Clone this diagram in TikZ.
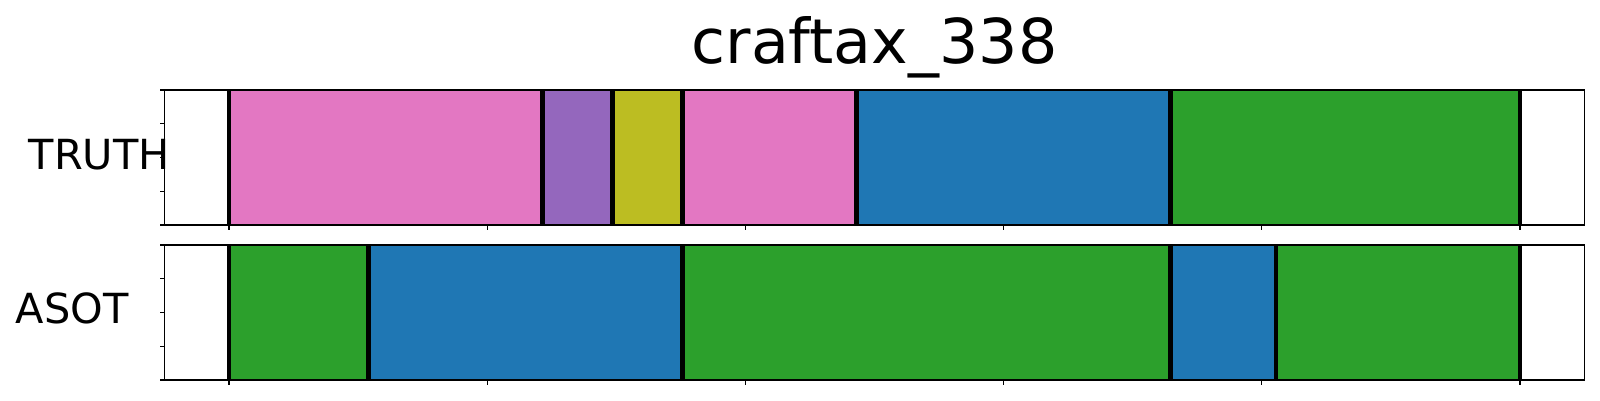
\documentclass[tikz,border=0pt]{standalone}
\usepackage{fontspec}
\setmainfont{DejaVu Sans}

\definecolor{tabpink}{HTML}{E377C2}
\definecolor{tabpurple}{HTML}{9467BD}
\definecolor{tabolive}{HTML}{BCBD22}
\definecolor{tabblue}{HTML}{1F77B4}
\definecolor{tabgreen}{HTML}{2CA02C}

\begin{document}
\begin{tikzpicture}[
  bound/.style={line width=1.3pt},
  frame/.style={line width=0.4pt},
  tickmark/.style={line width=0.35pt},
  rowlabel/.style={anchor=base west, inner sep=0pt, font=\fontsize{11.8}{14}\selectfont}
]

\useasboundingbox (0, 0) rectangle (16, 4);

% TRUTH row
\fill[tabpink] (2.29, 3.1) rectangle (5.427, 1.75);
\fill[tabpurple] (5.427, 3.1) rectangle (6.127, 1.75);
\fill[tabolive] (6.127, 3.1) rectangle (6.827, 1.75);
\fill[tabpink] (6.827, 3.1) rectangle (8.567, 1.75);
\fill[tabblue] (8.567, 3.1) rectangle (11.707, 1.75);
\fill[tabgreen] (11.707, 3.1) rectangle (15.2, 1.75);

% ASOT row
\fill[tabgreen] (2.29, 1.55) rectangle (3.683, 0.2);
\fill[tabblue] (3.683, 1.55) rectangle (6.827, 0.2);
\fill[tabgreen] (6.827, 1.55) rectangle (11.707, 0.2);
\fill[tabblue] (11.707, 1.55) rectangle (12.76, 0.2);
\fill[tabgreen] (12.76, 1.55) rectangle (15.2, 0.2);

\draw[bound] (2.29, 3.1) -- (2.29, 1.75);
\draw[bound] (5.427, 3.1) -- (5.427, 1.75);
\draw[bound] (6.127, 3.1) -- (6.127, 1.75);
\draw[bound] (6.827, 3.1) -- (6.827, 1.75);
\draw[bound] (8.567, 3.1) -- (8.567, 1.75);
\draw[bound] (11.707, 3.1) -- (11.707, 1.75);
\draw[bound] (15.2, 3.1) -- (15.2, 1.75);

\draw[bound] (2.29, 1.55) -- (2.29, 0.2);
\draw[bound] (3.683, 1.55) -- (3.683, 0.2);
\draw[bound] (6.827, 1.55) -- (6.827, 0.2);
\draw[bound] (11.707, 1.55) -- (11.707, 0.2);
\draw[bound] (12.76, 1.55) -- (12.76, 0.2);
\draw[bound] (15.2, 1.55) -- (15.2, 0.2);

\draw[frame] (1.645, 1.75) rectangle (15.845, 3.1);
\draw[frame] (1.645, 0.2) rectangle (15.845, 1.55);

% ticks
\draw[tickmark] (2.29, 1.75) -- (2.29, 1.7);
\draw[tickmark] (4.872, 1.75) -- (4.872, 1.7);
\draw[tickmark] (7.454, 1.75) -- (7.454, 1.7);
\draw[tickmark] (10.036, 1.75) -- (10.036, 1.7);
\draw[tickmark] (12.618, 1.75) -- (12.618, 1.7);
\draw[tickmark] (15.2, 1.75) -- (15.2, 1.7);

\draw[tickmark] (2.29, 0.2) -- (2.29, 0.15);
\draw[tickmark] (4.872, 0.2) -- (4.872, 0.15);
\draw[tickmark] (7.454, 0.2) -- (7.454, 0.15);
\draw[tickmark] (10.036, 0.2) -- (10.036, 0.15);
\draw[tickmark] (12.618, 0.2) -- (12.618, 0.15);
\draw[tickmark] (15.2, 0.2) -- (15.2, 0.15);

\draw[tickmark] (1.645, 3.1) -- (1.595, 3.1);
\draw[tickmark] (1.645, 2.7625) -- (1.595, 2.7625);
\draw[tickmark] (1.645, 2.425) -- (1.595, 2.425);
\draw[tickmark] (1.645, 2.0875) -- (1.595, 2.0875);
\draw[tickmark] (1.645, 1.75) -- (1.595, 1.75);

\draw[tickmark] (1.645, 1.55) -- (1.595, 1.55);
\draw[tickmark] (1.645, 1.2125) -- (1.595, 1.2125);
\draw[tickmark] (1.645, 0.875) -- (1.595, 0.875);
\draw[tickmark] (1.645, 0.5375) -- (1.595, 0.5375);
\draw[tickmark] (1.645, 0.2) -- (1.595, 0.2);

\node[rowlabel] (truth) at (0.28, 2.307) {TRUTH};
\node[rowlabel] (asot) at (0.15, 0.77) {ASOT};

\node[anchor=base, inner sep=0pt, font=\fontsize{17.6}{20}\selectfont] (title) at (8.745, 3.37) {craftax\_338};

\end{tikzpicture}
\end{document}
